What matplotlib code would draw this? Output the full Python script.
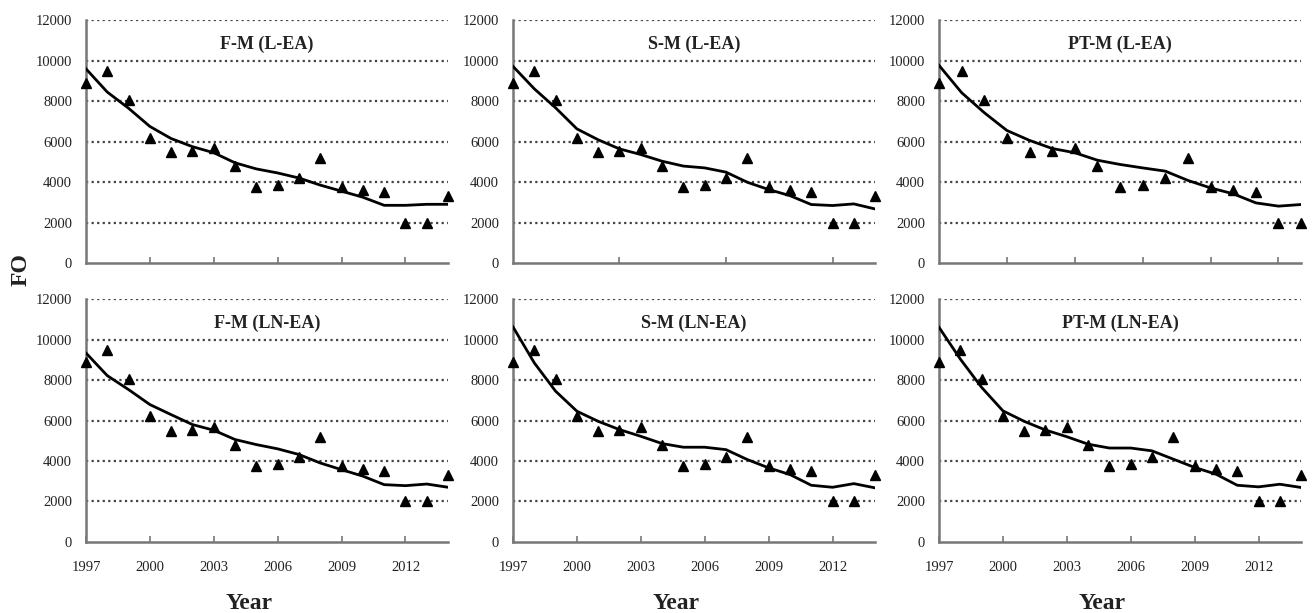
import numpy as np
from matplotlib import pyplot as plt

plt.rcParams['font.family'] = ['Liberation Serif', 'DejaVu Serif']

years = list(range(1997, 2015))
observed = [8900, 9500, 8050, 6200, 5500, 5550, 5700, 4800, 3750, 3850,
            4200, 5200, 3750, 3600, 3500, 2000, 2000, 3300]

# fitted curves
fm_lea = [9600, 8450, 7650, 6750, 6150, 5750, 5450, 4950, 4650, 4450,
          4200, 3850, 3550, 3250, 2850, 2850, 2900, 2900]
sm_lea = [9720, 8610, 7670, 6630, 6090, 5640, 5360, 5030, 4790, 4700,
          4490, 3990, 3630, 3330, 2890, 2840, 2920, 2670]
ptm_lea = [9770, 8420, 7430, 6550, 6060, 5660, 5450, 5080, 4870, 4700,
           4540, 4080, 3710, 3420, 2970, 2810, 2890]
fm_lnea = [9340, 8220, 7530, 6790, 6290, 5800, 5520, 5060, 4810, 4600,
           4320, 3900, 3570, 3250, 2830, 2780, 2860, 2700]
sm_lnea = [10630, 8850, 7450, 6460, 5960, 5550, 5220, 4860, 4680, 4680,
           4560, 4070, 3660, 3330, 2800, 2700, 2880, 2670]
ptm_lnea = [10610, 9040, 7640, 6480, 5960, 5530, 5200, 4830, 4640, 4640,
            4500, 4090, 3680, 3350, 2800, 2720, 2850, 2690]

titles = ["F-M (L-EA)", "S-M (L-EA)", "PT-M (L-EA)",
          "F-M (LN-EA)", "S-M (LN-EA)", "PT-M (LN-EA)"]
fits = [fm_lea, sm_lea, ptm_lea, fm_lnea, sm_lnea, ptm_lnea]
year_ticks = [1997, 2000, 2003, 2006, 2009, 2012]
yticks = [0, 2000, 4000, 6000, 8000, 10000, 12000]

fig = plt.figure(figsize=(13.14, 6.13), dpi=100)
lefts = [0.0654, 0.3904, 0.7146]
width = 0.2756
bottoms = [0.571, 0.116]
height = 0.396

for i in range(6):
    row, col = i // 3, i % 3
    ax = fig.add_axes([lefts[col], bottoms[row], width, height])
    fit = fits[i]
    n = len(fit)
    xs = years[:n]
    for g in yticks[1:]:
        ax.axhline(g, color='#444444', linestyle=(0, (1.0, 1.5)), linewidth=1.6, zorder=1)
    ax.plot(xs, fit, color='black', linewidth=2.0, zorder=3, solid_joinstyle='round')
    ax.plot(xs, observed[:n], '^', color='black', markersize=6.5, zorder=4, clip_on=False)
    ax.set_xlim(xs[0], xs[-1])
    ax.set_ylim(0, 12000)
    ax.set_yticks(yticks)
    ax.set_yticklabels([str(v) for v in yticks], fontsize=10.5, color='#222222')
    ax.tick_params(axis='y', length=0, pad=10)
    ax.text(0.5, 0.9, titles[i], transform=ax.transAxes, ha='center', va='center',
            fontsize=13, fontweight='bold', color='#222222')
    for s in ['top', 'right']:
        ax.spines[s].set_visible(False)
    for s in ['left', 'bottom']:
        ax.spines[s].set_color('#777777')
        ax.spines[s].set_linewidth(1.8)
    if row == 0:
        if col == 1:
            ax.set_xticks([2002, 2007, 2012])
        else:
            ax.set_xticks(year_ticks[1:])
        ax.set_xticklabels([])
        ax.tick_params(axis='x', direction='in', length=4, color='#777777', width=1.2)
    else:
        ax.set_xticks(year_ticks)
        ax.set_xticklabels([str(y) for y in year_ticks], fontsize=10.5, color='#222222')
        ax.tick_params(axis='x', direction='in', length=4, color='#777777', width=1.2, pad=14)
        ax.set_xlabel("Year", fontsize=17, fontweight='bold', color='#222222')
        ax.xaxis.set_label_coords(0.45, -0.21)

fig.text(0.016, 0.56, "FO", rotation=90, ha='center', va='center',
         fontsize=17, fontweight='bold', color='#222222')

plt.savefig("out.png", dpi=100)
